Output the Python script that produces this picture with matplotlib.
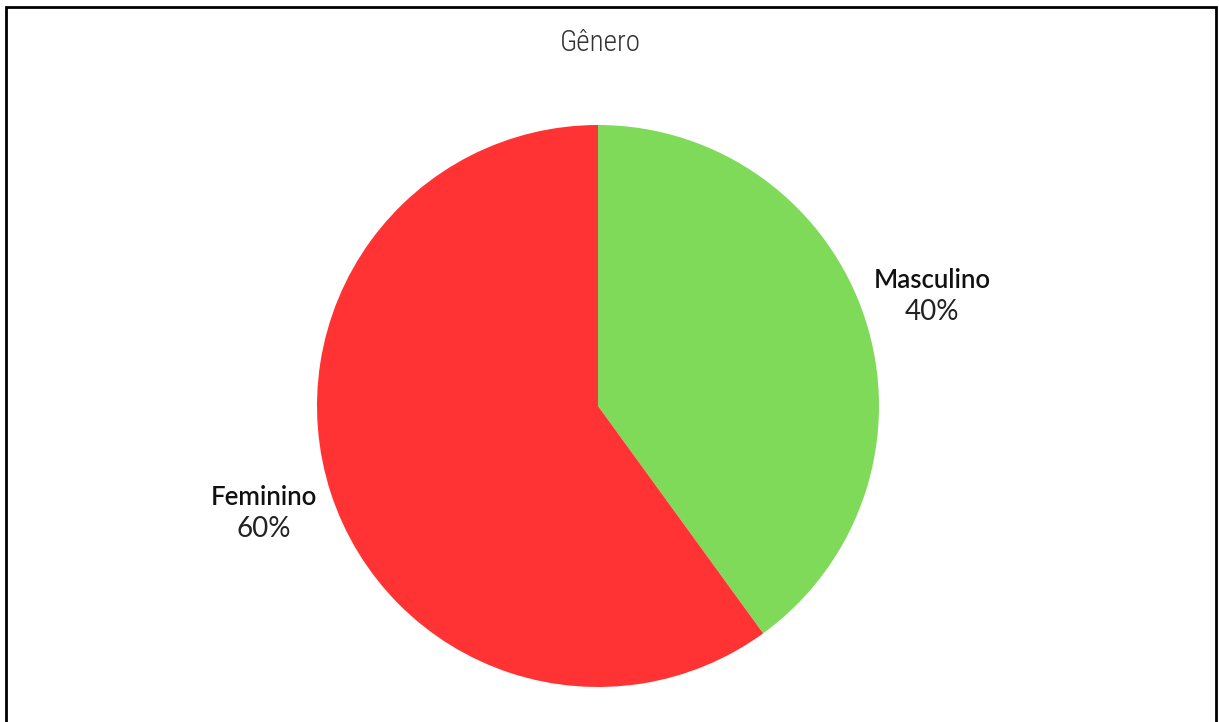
import numpy as np
import matplotlib.pyplot as plt
from matplotlib.patches import Rectangle

categorias = ["Masculino", "Feminino"]
valores = [40, 60]
cores = ["#80da5a", "#ff3333"]
titulo = "Gênero"

fig = plt.figure(figsize=(12.19, 7.22), dpi=100)
fig.patch.set_facecolor("white")

# moldura preta (sem borda inferior visivel)
fig.patches.append(Rectangle((6 / 1219, -0.05), 1210 / 1219, (722 - 7) / 722 + 0.05,
                             transform=fig.transFigure, fill=False,
                             edgecolor="black", linewidth=2))

# eixo do tamanho do diametro da pizza
r_px = 281
cx, cy = 598, 722 - 406
ax = fig.add_axes([(cx - r_px) / 1219, (cy - r_px) / 722, 2 * r_px / 1219, 2 * r_px / 722])
wedges, _ = ax.pie(valores, colors=cores, startangle=90, counterclock=False,
                   wedgeprops=dict(linewidth=0))
ax.set_xlim(-1, 1)
ax.set_ylim(-1, 1)
ax.set_aspect("equal")
ax.axis("off")

for w, nome, v in zip(wedges, categorias, valores):
    ang = np.deg2rad((w.theta1 + w.theta2) / 2)
    x, y = 1.25 * np.cos(ang), 1.25 * np.sin(ang)
    ax.annotate(nome, (x, y), xytext=(0, 3), textcoords="offset points",
                ha="center", va="bottom", fontsize=18.5, fontweight="semibold",
                family=["Lato", "DejaVu Sans"], color="#111111", annotation_clip=False)
    ax.annotate(f"{v}%", (x, y), xytext=(0, -1), textcoords="offset points",
                ha="center", va="top", fontsize=20, fontweight="normal",
                family=["Lato", "DejaVu Sans"], color="#222222", annotation_clip=False)

fig.text(600 / 1219, 1 - 43 / 722, titulo, ha="center", va="center", fontsize=21,
         fontweight="light", fontstretch="condensed",
         family=["Roboto Condensed", "Liberation Sans Narrow", "Roboto", "DejaVu Sans"],
         color="#333333")

fig.savefig("out.png", dpi=100, facecolor="white")
